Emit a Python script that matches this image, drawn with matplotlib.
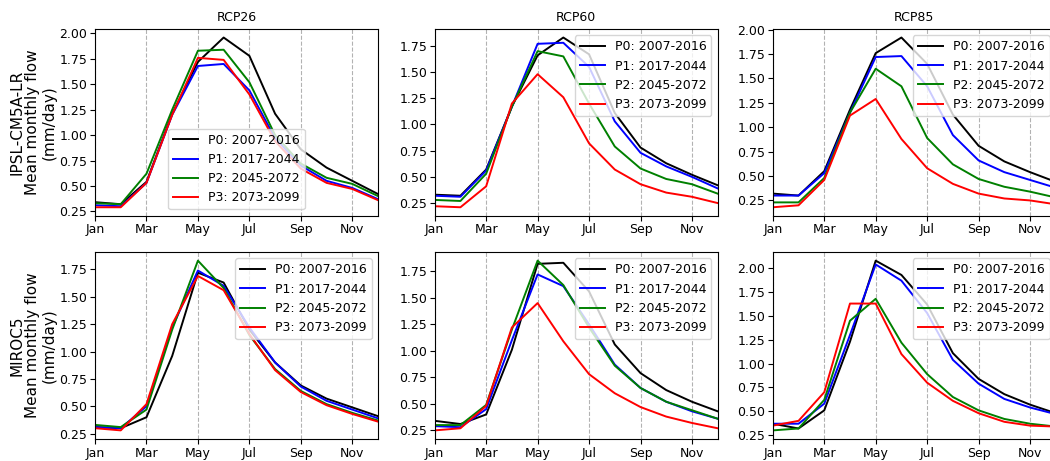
import numpy as np
import matplotlib.pyplot as plt
from matplotlib.ticker import MultipleLocator

# Month ticks
months = ['Jan', 'Feb', 'Mar', 'Apr', 'May', 'Jun', 'Jul', 'Aug', 'Sep', 'Oct', 'Nov', 'Dec']
periods = ['P0: 2007-2016', 'P1: 2017-2044', 'P2: 2045-2072', 'P3: 2073-2099']
colors = ['k', 'b', 'g', 'r']
scenarios = ['RCP26', 'RCP60', 'RCP85']
models = ['IPSL-CM5A-LR', 'MIROC5']

# IPSL-CM5A-LR
ipsl_rcp26 = [
    [0.34, 0.32, 0.54, 1.21, 1.72, 1.96, 1.78, 1.21, 0.86, 0.68, 0.55, 0.42],
    [0.31, 0.30, 0.53, 1.20, 1.68, 1.70, 1.44, 0.97, 0.70, 0.55, 0.48, 0.37],
    [0.33, 0.32, 0.62, 1.25, 1.83, 1.84, 1.52, 1.00, 0.72, 0.58, 0.52, 0.40],
    [0.29, 0.29, 0.53, 1.20, 1.76, 1.74, 1.40, 0.94, 0.67, 0.53, 0.47, 0.36],
]
ipsl_rcp60 = [
    [0.33, 0.32, 0.57, 1.17, 1.66, 1.83, 1.67, 1.11, 0.78, 0.63, 0.52, 0.42],
    [0.32, 0.31, 0.56, 1.17, 1.77, 1.78, 1.55, 1.03, 0.73, 0.60, 0.50, 0.39],
    [0.28, 0.27, 0.53, 1.17, 1.70, 1.65, 1.20, 0.79, 0.58, 0.48, 0.43, 0.34],
    [0.22, 0.21, 0.41, 1.20, 1.48, 1.26, 0.82, 0.57, 0.43, 0.35, 0.31, 0.25],
]
ipsl_rcp85 = [
    [0.32, 0.30, 0.55, 1.18, 1.76, 1.92, 1.65, 1.13, 0.81, 0.65, 0.54, 0.44],
    [0.30, 0.30, 0.53, 1.15, 1.72, 1.73, 1.42, 0.92, 0.66, 0.54, 0.46, 0.38],
    [0.23, 0.23, 0.48, 1.15, 1.60, 1.42, 0.89, 0.62, 0.47, 0.39, 0.34, 0.28],
    [0.18, 0.20, 0.46, 1.12, 1.29, 0.88, 0.58, 0.42, 0.32, 0.27, 0.25, 0.21],
]

# MIROC5
miroc_rcp26 = [
    [0.31, 0.30, 0.40, 0.96, 1.72, 1.63, 1.20, 0.90, 0.69, 0.57, 0.49, 0.41],
    [0.31, 0.30, 0.50, 1.22, 1.74, 1.60, 1.22, 0.90, 0.68, 0.55, 0.47, 0.39],
    [0.33, 0.31, 0.47, 1.20, 1.83, 1.58, 1.15, 0.84, 0.64, 0.52, 0.44, 0.37],
    [0.30, 0.28, 0.52, 1.25, 1.69, 1.56, 1.16, 0.83, 0.63, 0.51, 0.43, 0.36],
]
miroc_rcp60 = [
    [0.34, 0.31, 0.40, 1.01, 1.82, 1.83, 1.56, 1.06, 0.79, 0.63, 0.52, 0.43],
    [0.29, 0.28, 0.45, 1.10, 1.72, 1.61, 1.25, 0.87, 0.65, 0.52, 0.43, 0.36],
    [0.30, 0.30, 0.49, 1.20, 1.85, 1.62, 1.22, 0.86, 0.65, 0.52, 0.44, 0.36],
    [0.25, 0.27, 0.48, 1.22, 1.45, 1.09, 0.78, 0.60, 0.47, 0.38, 0.32, 0.27],
]
miroc_rcp85 = [
    [0.37, 0.32, 0.51, 1.23, 2.08, 1.93, 1.62, 1.11, 0.84, 0.68, 0.57, 0.48],
    [0.37, 0.37, 0.58, 1.30, 2.04, 1.87, 1.53, 1.04, 0.79, 0.63, 0.54, 0.47],
    [0.30, 0.32, 0.62, 1.45, 1.68, 1.22, 0.89, 0.65, 0.51, 0.42, 0.37, 0.34],
    [0.35, 0.40, 0.70, 1.63, 1.63, 1.10, 0.80, 0.61, 0.48, 0.39, 0.35, 0.34],
]

data = [[ipsl_rcp26, ipsl_rcp60, ipsl_rcp85],
        [miroc_rcp26, miroc_rcp60, miroc_rcp85]]

fig = plt.figure(figsize=(10.5, 4.61), dpi=100)
lefts = [0.0905, 0.414, 0.736]
bottoms = [0.532, 0.048]
w, h = 0.2695, 0.405
x = np.arange(12)

for r in range(2):
    for c in range(3):
        ax = fig.add_axes([lefts[c], bottoms[r], w, h])
        for k in range(4):
            ax.plot(x, data[r][c][k], color=colors[k], lw=1.4, label=periods[k])
        ax.set_xlim(0, 11)
        ax.set_xticks(x[::2])
        ax.set_xticklabels(months[::2])
        ax.yaxis.set_major_locator(MultipleLocator(0.25))
        ax.tick_params(labelsize=9, pad=2)
        ax.grid(axis='x', linestyle='--', color='gray', alpha=0.6, lw=0.8)
        if r == 0:
            ax.set_title(scenarios[c], fontsize=9)
        if c == 0:
            ax.set_ylabel(models[r] + '\nMean monthly flow\n(mm/day)',
                          fontsize=11, labelpad=2, linespacing=1.1)
        if r == 0 and c == 0:
            ax.legend(loc='lower center', fontsize=9)
        else:
            ax.legend(loc='upper right', fontsize=9)

plt.savefig('out.png', dpi=100)
